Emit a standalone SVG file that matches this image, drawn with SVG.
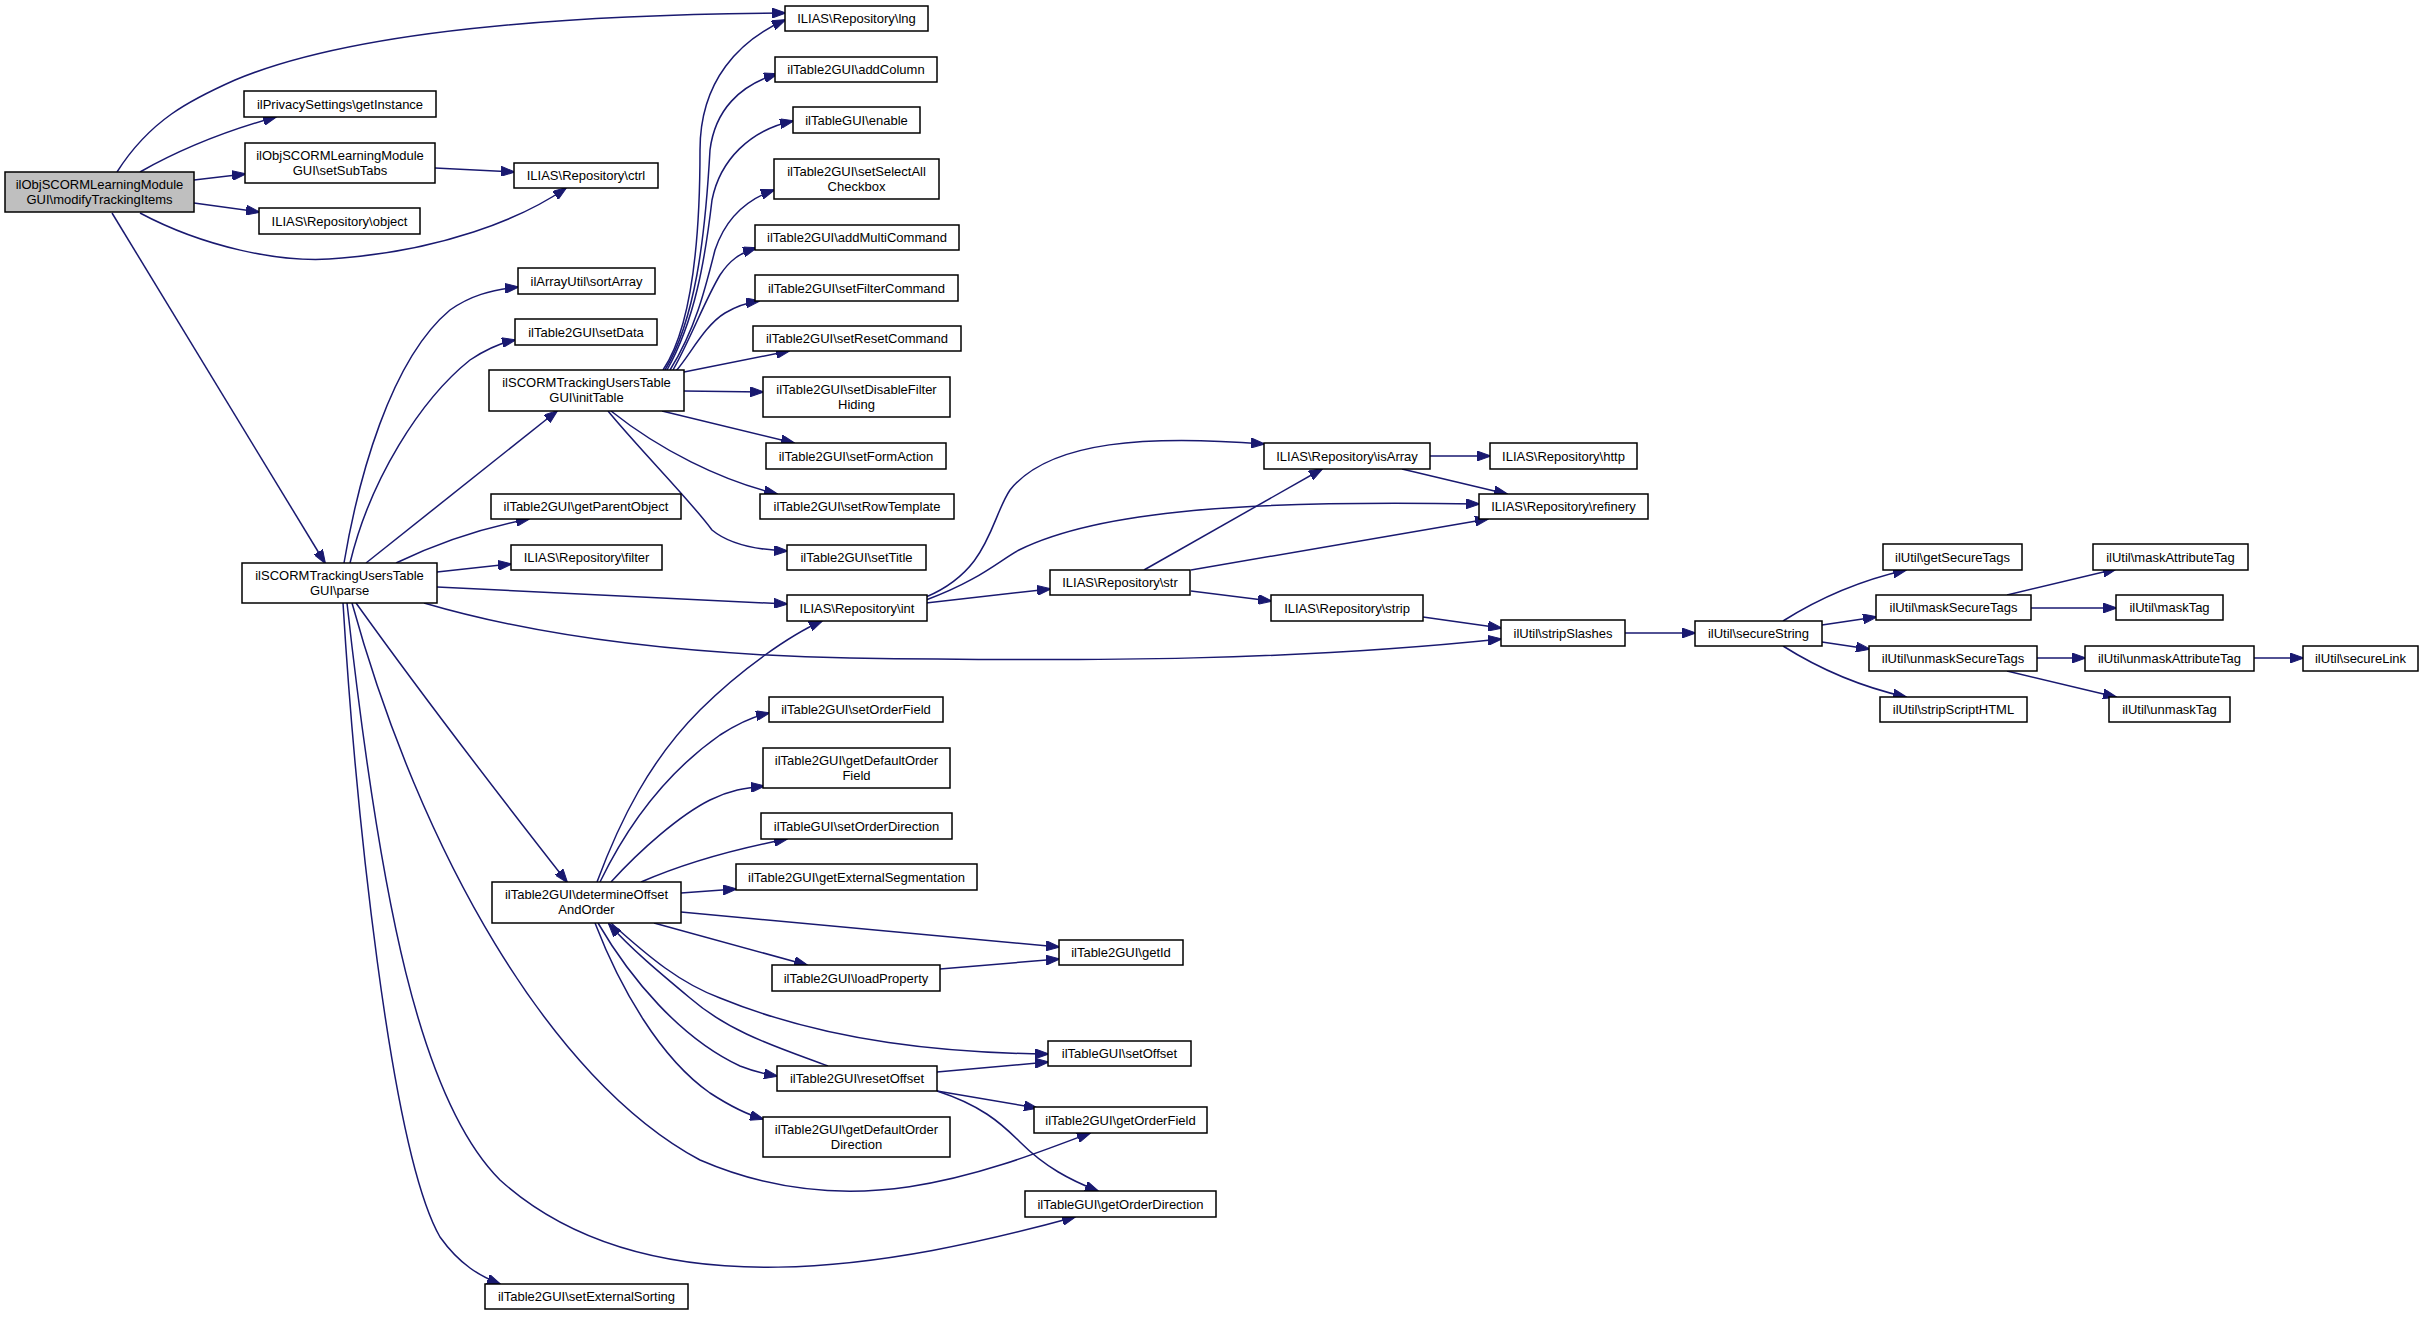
<svg xmlns="http://www.w3.org/2000/svg" width="2423" height="1317" viewBox="0 0 2423 1317">
<defs>
<marker id="ah" markerUnits="userSpaceOnUse" markerWidth="14" markerHeight="10" viewBox="0 0 14 10" refX="13" refY="5" orient="auto"><path d="M0,0 L14,5 L0,10 Z" fill="#191970" stroke="#191970"/></marker>
<style>
.n rect{fill:#fff;stroke:#000;stroke-width:1.5}
.n text{font-family:"Liberation Sans",Arial,sans-serif;font-size:13px;fill:#000;text-anchor:middle}
#edges path{fill:none;stroke:#191970;stroke-width:1.5;marker-end:url(#ah)}
</style>
</defs>
<rect width="2423" height="1317" fill="#fff"/>
<g id="edges">
<path d="M117,172 C150,120 190,100 235,80 C330,40 500,15 785,13"/>
<path d="M140,172 Q200,138 276,117"/>
<path d="M194,180 L245,174"/>
<path d="M194,203 L259,212"/>
<path d="M140,213 C200,245 280,265 342,258 C440,250 520,220 566,188"/>
<path d="M435,168 L514,172"/>
<path d="M112,213 L325,563"/>
<path d="M344,563 C358,480 390,360 450,310 C470,296 490,290 518,287"/>
<path d="M350,563 C370,480 420,400 470,360 C485,350 500,343 515,340"/>
<path d="M366,563 Q470,480 557,411"/>
<path d="M396,563 Q460,532 529,519"/>
<path d="M437,572 L511,564"/>
<path d="M437,587 L787,604"/>
<path d="M424,603 C550,640 700,655 850,658 C1100,662 1300,660 1501,639"/>
<path d="M356,603 Q440,720 567,882"/>
<path d="M352,603 C420,850 550,1080 700,1160 C850,1225 980,1175 1090,1133"/>
<path d="M347,603 C380,900 420,1100 500,1180 C650,1315 900,1265 1075,1217"/>
<path d="M343,603 C355,800 390,1150 440,1237 C460,1265 480,1276 500,1284"/>
<path d="M663,370 C690,330 700,250 700,150 C700,80 740,40 785,20"/>
<path d="M665,370 C695,320 705,240 710,150 C715,110 740,85 777,74"/>
<path d="M667,370 C695,320 705,260 712,200 C720,160 750,130 793,121"/>
<path d="M670,370 C695,330 705,290 715,250 C725,220 745,200 774,190"/>
<path d="M673,370 C690,340 705,300 720,275 C730,260 740,253 756,248"/>
<path d="M676,371 C690,355 705,325 725,313 C735,307 745,303 759,301"/>
<path d="M684,372 L789,351"/>
<path d="M684,391 L763,392"/>
<path d="M662,411 L794,443"/>
<path d="M611,411 C660,450 720,480 777,494"/>
<path d="M608,411 C640,450 690,500 712,530 C730,545 760,550 787,551"/>
<path d="M926,597 C990,570 990,520 1010,490 C1050,440 1150,435 1264,444"/>
<path d="M926,600 C980,580 1000,560 1019,550 C1100,510 1250,500 1479,504"/>
<path d="M926,603 L1050,589"/>
<path d="M1144,570 L1322,469"/>
<path d="M1191,570 L1488,519"/>
<path d="M1191,591 L1271,601"/>
<path d="M1430,456 L1490,456"/>
<path d="M1402,469 L1507,494"/>
<path d="M1423,617 L1501,628"/>
<path d="M1625,633 L1695,633"/>
<path d="M597,882 C620,820 650,760 700,710 C740,670 790,635 822,621"/>
<path d="M600,882 C630,820 670,770 720,735 C740,722 755,716 769,713"/>
<path d="M611,882 C640,850 680,815 710,800 C730,790 745,788 764,786"/>
<path d="M641,882 C680,865 730,850 787,839"/>
<path d="M681,893 L736,889"/>
<path d="M681,912 L1059,947"/>
<path d="M654,923 L807,965"/>
<path d="M940,969 L1059,959"/>
<path d="M611,923 C650,958 680,983 720,998 C830,1043 950,1053 1048,1054"/>
<path d="M598,923 C630,978 680,1038 740,1066 C755,1072 765,1074 777,1076"/>
<path d="M828,1066 C780,1048 730,1033 690,998 C660,973 630,948 609,924"/>
<path d="M595,923 C620,988 660,1058 710,1093 C730,1106 745,1114 763,1119"/>
<path d="M937,1072 L1048,1062"/>
<path d="M937,1091 L1037,1108"/>
<path d="M937,1091 C980,1105 1000,1122 1020,1142 C1045,1167 1070,1180 1098,1191"/>
<path d="M1783,621 Q1840,585 1906,570"/>
<path d="M1822,625 L1876,617"/>
<path d="M1822,642 L1869,649"/>
<path d="M1783,646 Q1840,682 1906,697"/>
<path d="M2007,595 L2116,569"/>
<path d="M2031,608 L2116,608"/>
<path d="M2037,658 L2085,658"/>
<path d="M2007,671 L2116,697"/>
<path d="M2254,658 L2303,658"/>
</g>
<g id="n1" class="n"><rect x="5" y="172" width="189" height="40" style="fill:#bfbfbf"/><text x="99.5" y="188.5">ilObjSCORMLearningModule</text><text x="99.5" y="203.5">GUI\modifyTrackingItems</text></g>
<g id="n2" class="n"><rect x="785" y="6" width="143" height="25"/><text x="856.5" y="23">ILIAS\Repository\lng</text></g>
<g id="n3" class="n"><rect x="244" y="91" width="192" height="26"/><text x="340" y="108.5">ilPrivacySettings\getInstance</text></g>
<g id="n4" class="n"><rect x="245" y="143" width="190" height="40"/><text x="340" y="159.5">ilObjSCORMLearningModule</text><text x="340" y="174.5">GUI\setSubTabs</text></g>
<g id="n5" class="n"><rect x="514" y="163" width="144" height="25"/><text x="586" y="180">ILIAS\Repository\ctrl</text></g>
<g id="n6" class="n"><rect x="259" y="208" width="161" height="26"/><text x="339.5" y="225.5">ILIAS\Repository\object</text></g>
<g id="n7" class="n"><rect x="518" y="268" width="137" height="26"/><text x="586.5" y="285.5">ilArrayUtil\sortArray</text></g>
<g id="n8" class="n"><rect x="515" y="319" width="142" height="26"/><text x="586" y="336.5">ilTable2GUI\setData</text></g>
<g id="n9" class="n"><rect x="489" y="370" width="195" height="41"/><text x="586.5" y="386.5">ilSCORMTrackingUsersTable</text><text x="586.5" y="401.5">GUI\initTable</text></g>
<g id="n10" class="n"><rect x="491" y="494" width="190" height="25"/><text x="586" y="511">ilTable2GUI\getParentObject</text></g>
<g id="n11" class="n"><rect x="511" y="545" width="151" height="25"/><text x="586.5" y="562">ILIAS\Repository\filter</text></g>
<g id="n12" class="n"><rect x="242" y="563" width="195" height="40"/><text x="339.5" y="579.5">ilSCORMTrackingUsersTable</text><text x="339.5" y="594.5">GUI\parse</text></g>
<g id="n13" class="n"><rect x="775" y="57" width="162" height="25"/><text x="856" y="74">ilTable2GUI\addColumn</text></g>
<g id="n14" class="n"><rect x="793" y="107" width="127" height="26"/><text x="856.5" y="124.5">ilTableGUI\enable</text></g>
<g id="n15" class="n"><rect x="774" y="159" width="165" height="40"/><text x="856.5" y="175.5">ilTable2GUI\setSelectAll</text><text x="856.5" y="190.5">Checkbox</text></g>
<g id="n16" class="n"><rect x="755" y="225" width="204" height="25"/><text x="857" y="242">ilTable2GUI\addMultiCommand</text></g>
<g id="n17" class="n"><rect x="755" y="275" width="203" height="26"/><text x="856.5" y="292.5">ilTable2GUI\setFilterCommand</text></g>
<g id="n18" class="n"><rect x="753" y="326" width="208" height="25"/><text x="857" y="343">ilTable2GUI\setResetCommand</text></g>
<g id="n19" class="n"><rect x="763" y="377" width="187" height="40"/><text x="856.5" y="393.5">ilTable2GUI\setDisableFilter</text><text x="856.5" y="408.5">Hiding</text></g>
<g id="n20" class="n"><rect x="766" y="443" width="180" height="26"/><text x="856" y="460.5">ilTable2GUI\setFormAction</text></g>
<g id="n21" class="n"><rect x="760" y="494" width="194" height="25"/><text x="857" y="511">ilTable2GUI\setRowTemplate</text></g>
<g id="n22" class="n"><rect x="787" y="545" width="139" height="25"/><text x="856.5" y="562">ilTable2GUI\setTitle</text></g>
<g id="n23" class="n"><rect x="787" y="595" width="140" height="26"/><text x="857" y="612.5">ILIAS\Repository\int</text></g>
<g id="n24" class="n"><rect x="769" y="697" width="174" height="25"/><text x="856" y="714">ilTable2GUI\setOrderField</text></g>
<g id="n25" class="n"><rect x="763" y="748" width="187" height="40"/><text x="856.5" y="764.5">ilTable2GUI\getDefaultOrder</text><text x="856.5" y="779.5">Field</text></g>
<g id="n26" class="n"><rect x="761" y="813" width="191" height="26"/><text x="856.5" y="830.5">ilTableGUI\setOrderDirection</text></g>
<g id="n27" class="n"><rect x="736" y="864" width="241" height="26"/><text x="856.5" y="881.5">ilTable2GUI\getExternalSegmentation</text></g>
<g id="n28" class="n"><rect x="492" y="882" width="189" height="41"/><text x="586.5" y="898.5">ilTable2GUI\determineOffset</text><text x="586.5" y="913.5">AndOrder</text></g>
<g id="n29" class="n"><rect x="772" y="965" width="168" height="26"/><text x="856" y="982.5">ilTable2GUI\loadProperty</text></g>
<g id="n30" class="n"><rect x="777" y="1066" width="160" height="25"/><text x="857" y="1083">ilTable2GUI\resetOffset</text></g>
<g id="n31" class="n"><rect x="763" y="1117" width="187" height="40"/><text x="856.5" y="1133.5">ilTable2GUI\getDefaultOrder</text><text x="856.5" y="1148.5">Direction</text></g>
<g id="n32" class="n"><rect x="485" y="1284" width="203" height="25"/><text x="586.5" y="1301">ilTable2GUI\setExternalSorting</text></g>
<g id="n33" class="n"><rect x="1264" y="443" width="166" height="26"/><text x="1347" y="460.5">ILIAS\Repository\isArray</text></g>
<g id="n34" class="n"><rect x="1490" y="443" width="147" height="26"/><text x="1563.5" y="460.5">ILIAS\Repository\http</text></g>
<g id="n35" class="n"><rect x="1479" y="494" width="169" height="25"/><text x="1563.5" y="511">ILIAS\Repository\refinery</text></g>
<g id="n36" class="n"><rect x="1050" y="570" width="140" height="25"/><text x="1120" y="587">ILIAS\Repository\str</text></g>
<g id="n37" class="n"><rect x="1271" y="595" width="152" height="26"/><text x="1347" y="612.5">ILIAS\Repository\strip</text></g>
<g id="n38" class="n"><rect x="1501" y="620" width="124" height="26"/><text x="1563" y="637.5">ilUtil\stripSlashes</text></g>
<g id="n39" class="n"><rect x="1059" y="940" width="124" height="25"/><text x="1121" y="957">ilTable2GUI\getId</text></g>
<g id="n40" class="n"><rect x="1048" y="1041" width="143" height="25"/><text x="1119.5" y="1058">ilTableGUI\setOffset</text></g>
<g id="n41" class="n"><rect x="1034" y="1107" width="173" height="26"/><text x="1120.5" y="1124.5">ilTable2GUI\getOrderField</text></g>
<g id="n42" class="n"><rect x="1025" y="1191" width="191" height="26"/><text x="1120.5" y="1208.5">ilTableGUI\getOrderDirection</text></g>
<g id="n43" class="n"><rect x="1695" y="621" width="127" height="25"/><text x="1758.5" y="638">ilUtil\secureString</text></g>
<g id="n44" class="n"><rect x="1883" y="544" width="139" height="26"/><text x="1952.5" y="561.5">ilUtil\getSecureTags</text></g>
<g id="n45" class="n"><rect x="1876" y="595" width="155" height="25"/><text x="1953.5" y="612">ilUtil\maskSecureTags</text></g>
<g id="n46" class="n"><rect x="1869" y="646" width="168" height="25"/><text x="1953" y="663">ilUtil\unmaskSecureTags</text></g>
<g id="n47" class="n"><rect x="1880" y="697" width="147" height="25"/><text x="1953.5" y="714">ilUtil\stripScriptHTML</text></g>
<g id="n48" class="n"><rect x="2093" y="544" width="155" height="26"/><text x="2170.5" y="561.5">ilUtil\maskAttributeTag</text></g>
<g id="n49" class="n"><rect x="2116" y="595" width="107" height="25"/><text x="2169.5" y="612">ilUtil\maskTag</text></g>
<g id="n50" class="n"><rect x="2085" y="646" width="169" height="25"/><text x="2169.5" y="663">ilUtil\unmaskAttributeTag</text></g>
<g id="n51" class="n"><rect x="2109" y="697" width="121" height="25"/><text x="2169.5" y="714">ilUtil\unmaskTag</text></g>
<g id="n52" class="n"><rect x="2303" y="646" width="115" height="25"/><text x="2360.5" y="663">ilUtil\secureLink</text></g>
</svg>
